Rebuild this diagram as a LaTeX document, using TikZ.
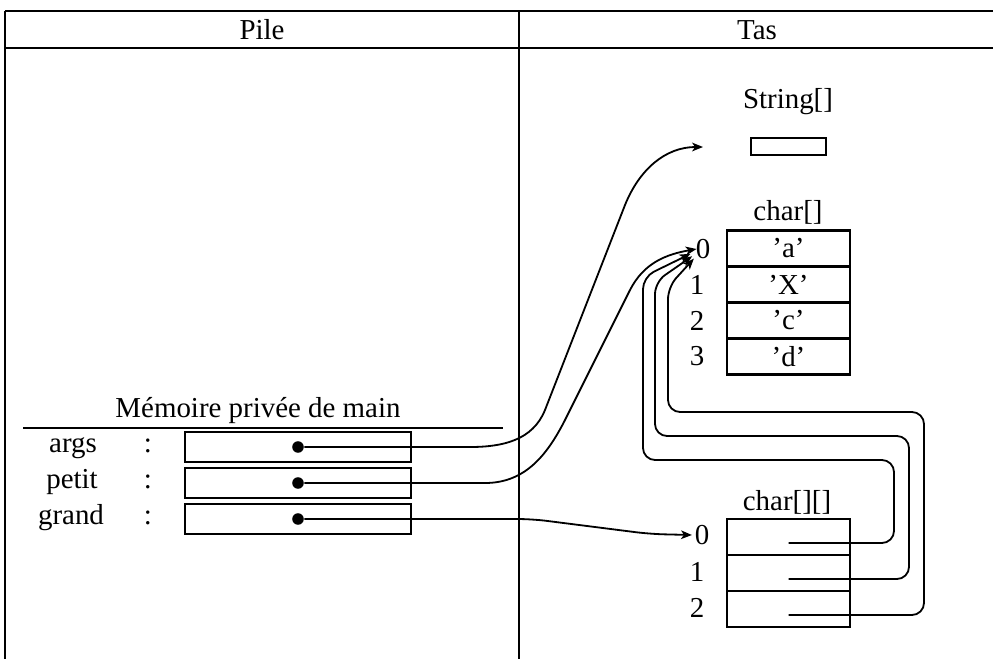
\documentclass[tikz,border=0pt]{standalone}
\usepackage{fontspec}
\setmainfont{Liberation Serif}
\usetikzlibrary{arrows.meta}

\begin{document}
\begin{tikzpicture}[>={Stealth[length=4.5pt,width=3.6pt,inset=1.2pt]},x=0.415pt,y=-0.415pt,node distance=14.94pt,
		font=\fontsize{12}{14}\selectfont,
		frame/.style={line width=1.1pt},
		link/.style={->,line width=0.75pt},
		box/.style={draw,line width=1pt,inner sep=0pt},
		cell/.style={box,minimum width=51pt,minimum height=14.94pt},
		var/.style={box,minimum width=93.8pt,minimum height=12.45pt},
		dot/.style={circle,fill,inner sep=0pt,minimum size=4.8pt},
		idx/.style={inner sep=1pt}]
		\useasboundingbox (0,0) rectangle (993,659);
		% tableau Pile / Tas
		\draw[frame] (5,11) -- (993,11) (5,48) -- (993,48)
		(5,11) -- (5,659) (519,11) -- (519,659);
		\node (pile) at (262,30) {Pile};
		\node (tas) at (757,30) {Tas};
		
		% pile : variables de main
		\node[anchor=base] (titre) at (258,417) {Mémoire privée de main};
		\draw[frame] (23,428) -- (503,428);
		\node[var] (args) at (298,447) {};
		\node[var] (petit) [below of= args] {};
		\node[var] (grand) [below of= petit] {};
		\node[anchor=mid] (nargs) at (73,447) {args};
		\node[anchor=mid] (npetit) at (72,483) {petit};
		\node[anchor=mid] (ngrand) at (71,519) {grand};
		\node[anchor=mid] (dargs) at (148,447) {:};
		\node[anchor=mid] (dpetit) at (148,483) {:};
		\node[anchor=mid] (dgrand) at (148,519) {:};
		\node[dot] (pargs) at (args) {};
		\node[dot] (ppetit) at (petit) {};
		\node[dot] (pgrand) at (grand) {};
		
		% tas : String[]
		\node (tstr) at (788,102) {String[]};
		\node[box,minimum width=31.1pt,minimum height=7.05pt] (str) at (788.5,146.5) {};
		\coordinate (vers) at (703,147);
		
		% tas : char[]
		\node (tchar) at (788,212) {char[]};
		\node[cell] (c0) at (788.5,248.5) {'a'};
		\node[cell] (c1) [below of= c0] {'X'};
		\node[cell] (c2) [below of= c1] {'c'};
		\node[cell] (c3) [below of= c2] {'d'};
		\node[idx] (i0) at (703,249) {0};
		\node[idx] (i1) at (697,284.5) {1};
		\node[idx] (i2) at (697,320.5) {2};
		\node[idx] (i3) at (697,356.5) {3};
		
		% tas : char[][]
		\node (tmat) at (787,502) {char[][]};
		\node[cell] (m0) at (788.5,537) {};
		\node[cell] (m1) [below of= m0] {};
		\node[cell] (m2) [below of= m1] {};
		\node[idx] (j0) at (702,535) {0};
		\node[idx] (j1) at (697,572) {1};
		\node[idx] (j2) at (697,608) {2};
		
		% references
		\draw[link] (pargs) -- (470,447) to[out=0,in=248] (545,410)
		-- (625,205) to[out=68,in=180] (vers);
		\draw[link] (ppetit) -- (485,483) to[out=0,in=243] (565,420)
		-- (630,290) to[out=63,in=190] ([xshift=1.5pt]i0.west);
		\draw[link,rounded corners=6pt] (pgrand) -- (532,519) -- (650,534) -- (j0.west);
		
		\draw[link,rounded corners=5pt] ([yshift=-2.5pt]m0.center) -- (894,543) -- (894,460)
		-- (643,460) -- (643,277) -- ([xshift=-1pt,yshift=-2pt]i0.west);
		\draw[link,rounded corners=5pt] ([yshift=-2.5pt]m1.center) -- (909,579) -- (909,436)
		-- (655,436) -- (655,282) -- ([xshift=-0.3pt,yshift=-3pt]i0.west);
		\draw[link,rounded corners=5pt] ([yshift=-2.5pt]m2.center) -- (924,615) -- (924,412)
		-- (668,412) -- (668,287) -- ([xshift=0.4pt,yshift=-4pt]i0.west);
		
	\end{tikzpicture}
\end{document}
